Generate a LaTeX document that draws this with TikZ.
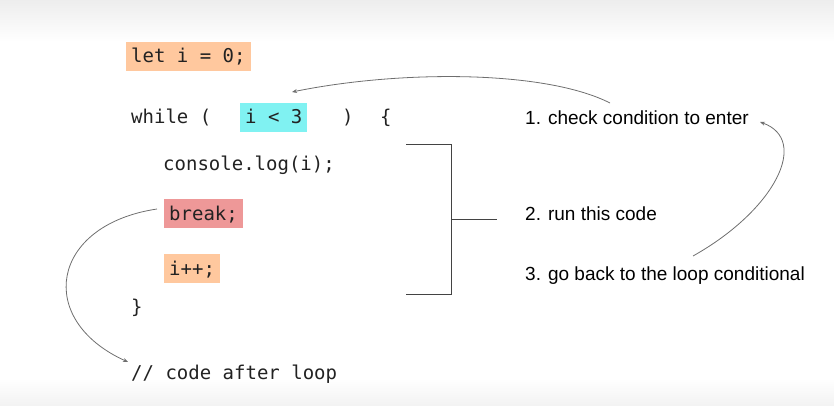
\documentclass[tikz,border=0pt]{standalone}
\usepackage{fontspec}
\setmainfont{Liberation Sans}
\setmonofont{DejaVu Sans Mono}
\usetikzlibrary{arrows.meta}
\definecolor{peach}{RGB}{255,200,158}
\definecolor{aqua}{RGB}{128,242,242}
\definecolor{rosy}{RGB}{238,152,152}
\definecolor{ink}{RGB}{34,34,34}
\definecolor{wire}{RGB}{110,110,110}
\begin{document}
\begin{tikzpicture}[x=1pt,y=-1pt,
  code/.style={font=\ttfamily\fontsize{19}{22}\selectfont, text=ink, anchor=base west, inner sep=0pt},
  hl/.style={code, inner xsep=5pt, inner ysep=0pt, text height=21pt, text depth=8pt},
  note/.style={font=\fontsize{19}{22}\selectfont, text=black, anchor=base west, inner sep=0pt},
  link/.style={draw=wire, line width=0.8pt, -{Stealth[length=5pt,width=4pt]}},
  bracket/.style={draw=ink!85, line width=1pt}]
\useasboundingbox (0,0) rectangle (834,406);
\shade[top color=gray!14, bottom color=white] (0,0) rectangle (834,42);
\shade[top color=white, bottom color=gray!10] (0,378) rectangle (834,406);

\node[hl, fill=peach] (init) at (126,63) {let i = 0;};
\node[code] (while) at (131,124) {while (};
\node[hl, fill=aqua] (cond) at (240,124) {i < 3};
\node[code] (rpar) at (342,124) {)};
\node[code] (lbrace) at (380,124) {\{};
\node[code] (log) at (163,171) {console.log(i);};
\node[hl, fill=rosy] (brk) at (164,220) {break;};
\node[hl, fill=peach] (inc) at (164,275) {i++;};
\node[code] (rbrace) at (131,313) {\}};
\node[code] (after) at (131,379) {// code after loop};

\node[note] (step1) at (525,125) {1. check condition to enter};
\node[note] (step2) at (525,220) {2. run this code};
\node[note] (step3) at (525,280) {3. go back to the loop conditional};

\coordinate (bt) at (406,145);
\coordinate (btr) at (451,145);
\coordinate (bbr) at (451,294);
\coordinate (bb) at (406,294);
\coordinate (bmid) at (451,219);
\coordinate (btick) at (497,219);
\draw[bracket] (bt) -- (btr) -- (bbr) -- (bb);
\draw[bracket] (bmid) -- (btick);

\coordinate (a1s) at (610,103);
\coordinate (a1e) at (292,92);
\draw[link] (a1s) .. controls (545,70) and (400,70) .. (a1e);

\coordinate (a2s) at (693,256);
\coordinate (a2e) at (760,122);
\draw[link] (a2s) .. controls (775,210) and (810,140) .. (a2e);

\coordinate (a3s) at (157,209);
\coordinate (a3e) at (128,362);
\draw[link] (a3s) .. controls (50,225) and (35,320) .. (a3e);
\end{tikzpicture}
\end{document}
